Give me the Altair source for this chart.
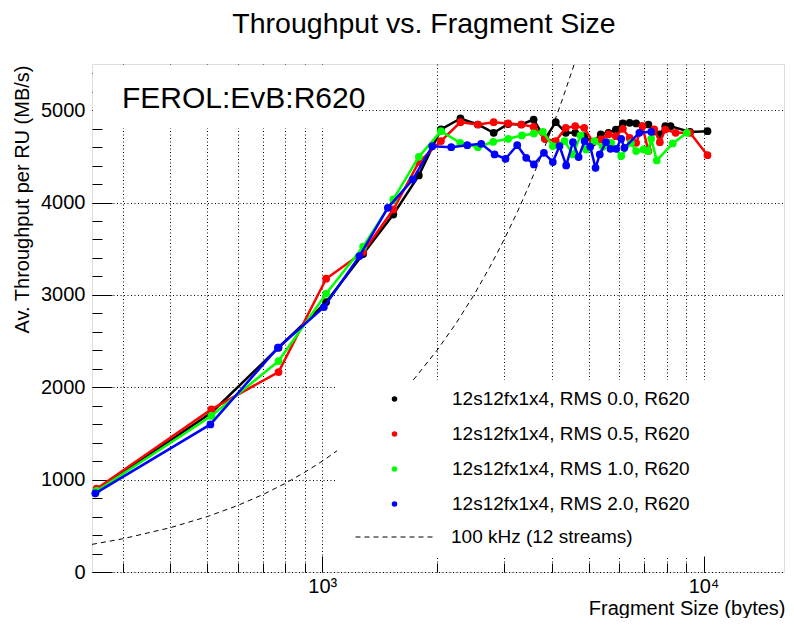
import altair as alt
import pandas as pd

# ---------------- data ----------------
series_names = [
    "12s12fx1x4, RMS 0.0, R620",
    "12s12fx1x4, RMS 0.5, R620",
    "12s12fx1x4, RMS 1.0, R620",
    "12s12fx1x4, RMS 2.0, R620",
]
series_colors = ["#000000", "#ff0000", "#00ff00", "#0000ff"]

rms00_size = [256, 512, 768, 1024, 1280, 1536, 1792, 2048, 2304, 2560, 2816, 3072, 3328, 3584,
              3840, 4096, 4352, 4608, 4864, 5120, 5376, 5632, 5888, 6144, 6400, 6656, 7168,
              7424, 7680, 7936, 8192, 9216, 10240]
rms00_thr = [885, 1725, 2428, 2922, 3442, 3870, 4293, 4791, 4910, 4845, 4755, 4850, 4845, 4899,
             4690, 4870, 4755, 4755, 4720, 4650, 4737, 4755, 4790, 4856, 4863, 4856, 4845,
             4770, 4737, 4827, 4827, 4765, 4773]

rms05_size = [256, 512, 768, 1024, 1280, 1536, 1792, 2048, 2304, 2560, 2816, 3072, 3328, 3584,
              3840, 4096, 4352, 4608, 4864, 5120, 5376, 5632, 5888, 6144, 6400, 6656, 6912,
              7168, 7424, 7680, 7936, 8448, 9216, 10240]
rms05_thr = [902, 1761, 2165, 3175, 3463, 3925, 4437, 4665, 4870, 4845, 4870, 4856, 4845, 4820,
             4690, 4665, 4809, 4827, 4809, 4660, 4683, 4737, 4719, 4798, 4700, 4647, 4827,
             4557, 4791, 4654, 4790, 4755, 4755, 4513]

rms10_size = [256, 512, 768, 1024, 1280, 1536, 1792, 2048, 2300, 2560, 2808, 3074, 3338, 3589,
              3790, 4025, 4319, 4543, 4758, 4924, 5177, 5445, 5725, 6082, 6449, 6656, 6960,
              7144, 7290, 7539, 8303, 9043]
rms10_thr = [877, 1689, 2284, 3013, 3522, 4034, 4495, 4773, 4647, 4600, 4658, 4690, 4726, 4748,
             4766, 4611, 4665, 4521, 4726, 4575, 4665, 4604, 4647, 4503, 4647, 4557, 4575,
             4557, 4690, 4456, 4640, 4755]

rms20_size = [254, 509, 765, 1010, 1252, 1486, 1728, 1943, 2179, 2401, 2612, 2831, 3025, 3246,
              3427, 3590, 3813, 4025, 4191, 4363, 4543, 4703, 4875, 5044, 5209, 5343, 5547,
              5700, 5902, 6082, 6200, 6786, 7290]
rms20_thr = [852, 1598, 2428, 2868, 3420, 3943, 4250, 4610, 4600, 4621, 4636, 4521, 4474, 4621,
             4484, 4412, 4539, 4438, 4611, 4402, 4654, 4492, 4665, 4604, 4376, 4521, 4654,
             4582, 4582, 4690, 4593, 4755, 4766]

# 100 kHz (12 streams) reference curve
rate_label = "100 kHz (12 streams)"
rate_size = [249, 300, 400, 500, 600, 700, 800, 900, 1000, 1100, 1250, 1500, 1750, 2000,
             2250, 2500, 2750, 3000, 3250, 3500, 3750, 4000, 4250, 4583]
rate_thr = [299, 360, 480, 600, 720, 840, 960, 1080, 1200, 1320, 1500, 1800, 2100, 2400,
            2700, 3000, 3300, 3600, 3900, 4200, 4500, 4800, 5100, 5500]

x_grid_values = [300, 400, 500, 600, 700, 800, 900, 1000,
                 2000, 3000, 4000, 5000, 6000, 7000, 8000, 9000, 10000]
y_major_values = [0, 1000, 2000, 3000, 4000, 5000]
y_minor_values = [0, 200, 400, 600, 800, 1000, 1200, 1400, 1600, 1800, 2000, 2200, 2400,
                  2600, 2800, 3000, 3200, 3400, 3600, 3800, 4000, 4200, 4400, 4600, 4800,
                  5000, 5200, 5400]

# ---------------- layout / style ----------------
W, H = 692, 508
FONT = "Liberation Sans"

xscale = alt.Scale(type="log", domain=[249, 16255], nice=False)
yscale = alt.Scale(domain=[0, 5500], nice=False, zero=False)

x_axis = alt.Axis(
    values=x_grid_values, grid=True, gridDash=[1, 2.5], gridColor="black", gridWidth=1,
    ticks=False, domain=False, labelFlush=False, labelOverlap=False,
    labelExpr="datum.value == 1000 ? '10³' : (datum.value == 10000 ? '10⁴' : '')",
    labelFont=FONT, labelFontSize=20, labelColor="black", labelPadding=4,
    title="Fragment Size (bytes)", titleFont=FONT, titleFontSize=20, titleFontWeight="normal",
    titleColor="black", titleAnchor="end", titleAlign="right", titleBaseline="alphabetic",
    titleX=W + 1, titleY=42,
)
y_axis = alt.Axis(
    values=y_major_values, grid=True, gridDash=[1, 2.5], gridColor="black", gridWidth=1,
    ticks=False, domain=False, labelFlush=False, labelOverlap=False, format="d",
    labelFont=FONT, labelFontSize=20, labelColor="black", labelPadding=7,
    title="Av. Throughput per RU (MB/s)", titleFont=FONT, titleFontSize=20,
    titleFontWeight="normal", titleColor="black", titleAngle=270, titleAlign="right",
    titleBaseline="middle", titleX=-70, titleY=1,
)

X = alt.X("size:Q", scale=xscale, axis=x_axis)
Y = alt.Y("thr:Q", scale=yscale, axis=y_axis)

one = pd.DataFrame({"k": [0]})

rate_df = pd.DataFrame({"size": rate_size, "thr": rate_thr, "lab": [rate_label] * len(rate_size)})
rate_line = alt.Chart(rate_df).mark_line(color="black", strokeWidth=1, clip=True).encode(
    x=X, y=Y,
    strokeDash=alt.StrokeDash(
        "lab:N",
        scale=alt.Scale(domain=[rate_label], range=[[5, 4]]),
        legend=alt.Legend(
            orient="none", legendX=263, legendY=434, padding=0, title=None,
            symbolType="stroke", symbolSize=5929, symbolStrokeColor="black",
            symbolStrokeWidth=1, symbolDash=[5, 4], labelLimit=400,
            labelFont=FONT, labelFontSize=19, labelColor="black", labelOffset=18,
        ),
    ),
)

# white boxes behind the label and the legend (as in the reference)
label_box = alt.Chart(one).mark_rect(color="white").encode(
    x=alt.value(1), x2=alt.value(266), y=alt.value(1), y2=alt.value(64))
legend_box = alt.Chart(one).mark_rect(color="white").encode(
    x=alt.value(245), x2=alt.value(W - 1), y=alt.value(316), y2=alt.value(492))

label_text = alt.Chart(one).mark_text(
    text="FEROL:EvB:R620", font=FONT, fontSize=30, align="left",
    baseline="alphabetic", color="black",
).encode(x=alt.value(30), y=alt.value(44))

color_legend = alt.Legend(
    orient="none", legendX=293, legendY=325.5, padding=0, title=None,
    symbolType="circle", symbolSize=30, symbolStrokeWidth=0, labelLimit=400,
    labelFont=FONT, labelFontSize=19, labelColor="black", labelOffset=48,
    rowPadding=15,
)
color_enc = alt.Color("series:N", scale=alt.Scale(domain=series_names, range=series_colors),
                      legend=color_legend)

all_sizes = [rms00_size, rms05_size, rms10_size, rms20_size]
all_thr = [rms00_thr, rms05_thr, rms10_thr, rms20_thr]

series_layers = []
for name, col, sz, th in zip(series_names, series_colors, all_sizes, all_thr):
    d = pd.DataFrame({"size": sz, "thr": th, "series": [name] * len(sz), "col": [col] * len(sz)})
    series_layers.append(
        alt.Chart(d).mark_line(strokeWidth=2.5).encode(
            x=X, y=Y, color=alt.Color("col:N", scale=None))
    )
    series_layers.append(
        alt.Chart(d).mark_circle(size=60, opacity=1).encode(x=X, y=Y, color=color_enc)
    )

inner = alt.layer(rate_line, label_box, legend_box, label_text, *series_layers)

# invisible layer that carries the inward-pointing ticks (ROOT style)
tick_df = pd.DataFrame({"size": rms00_size, "thr": rms00_thr})
tick_layer = alt.Chart(tick_df).mark_point(opacity=0).encode(
    x=alt.X("size:Q", scale=xscale, axis=alt.Axis(
        orient="top", offset=-H, values=x_grid_values, labels=False, grid=False,
        domain=False, tickColor="black", tickWidth=1, title=None,
        tickSize={"condition": {"test": "datum.value === 1000 || datum.value === 10000",
                                "value": 16}, "value": 9},
    )),
    y=alt.Y("thr:Q", scale=yscale, axis=alt.Axis(
        orient="right", offset=-W, values=y_minor_values, labels=False, grid=False,
        domain=False, tickColor="black", tickWidth=1, title=None,
        tickSize={"condition": {"test": "datum.value % 1000 === 0", "value": 20}, "value": 10},
    )),
)

chart = alt.layer(inner, tick_layer).resolve_axis(
    x="independent", y="independent"
).properties(
    width=W, height=H,
    padding={"left": 84, "top": 56, "right": 2, "bottom": 46},
    autosize=alt.AutoSizeParams(type="none"),
    title=alt.Title("Throughput vs. Fragment Size", font=FONT, fontSize=28.5,
                    fontWeight="normal", color="black", anchor="middle", dx=-14, offset=26),
).configure_view(
    stroke="black", strokeWidth=1.5
).configure(background="white")

chart.save("out.html", embed_options={"renderer": "svg", "actions": False})
